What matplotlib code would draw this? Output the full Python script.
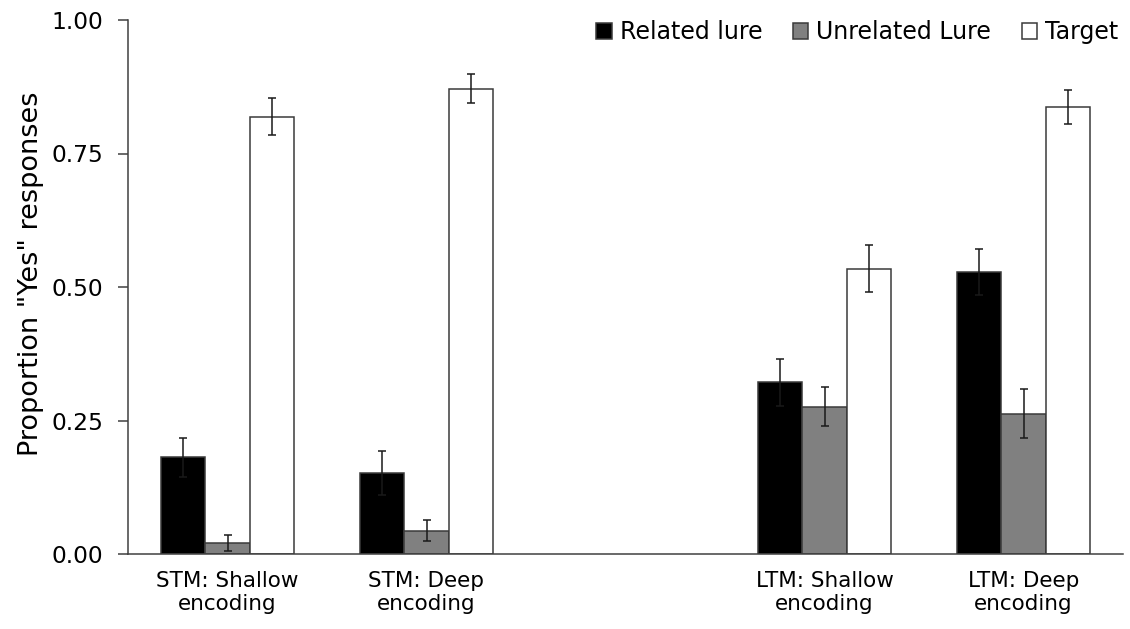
import matplotlib
matplotlib.use("Agg")
import matplotlib.pyplot as plt
import numpy as np

plt.rcParams['font.family'] = ['DejaVu Sans']

categories = ["STM: Shallow\nencoding", "STM: Deep\nencoding", "LTM: Shallow\nencoding", "LTM: Deep\nencoding"]
series_names = ["Related lure", "Unrelated Lure", "Target"]
related = [0.181, 0.152, 0.322, 0.528]
related_err = [0.036, 0.041, 0.044, 0.043]
unrelated = [0.021, 0.044, 0.276, 0.263]
unrelated_err = [0.015, 0.019, 0.036, 0.046]
target = [0.819, 0.871, 0.534, 0.837]
target_err = [0.034, 0.027, 0.044, 0.031]
yticks = [0.0, 0.25, 0.5, 0.75, 1.0]

positions = np.array([0, 1, 3, 4], dtype=float)
width = 0.222

fig = plt.figure(figsize=(11.30, 6.29), dpi=100)
ax = fig.add_axes([128/1130, 75/629, 995/1130, 534/629])

colors = ["#000000", "#808080", "#ffffff"]
data = [related, unrelated, target]
errs = [related_err, unrelated_err, target_err]
for i, (vals, e, c, name) in enumerate(zip(data, errs, colors, series_names)):
    x = positions + (i - 1) * width
    ax.bar(x, vals, width=width, color=c, edgecolor="#3a3a3a", linewidth=1.1, label=name, zorder=2)
    ax.errorbar(x, vals, yerr=e, fmt="none", ecolor="#1a1a1a", elinewidth=1.1, capsize=3.0, capthick=1.1, zorder=3)

ax.set_xlim(-0.5, 4.5)
ax.set_ylim(0, 1.0)
ax.set_yticks(yticks)
ax.set_yticklabels([f"{v:.2f}" for v in yticks], fontsize=16.8)
ax.set_xticks(positions)
ax.set_xticklabels(categories, fontsize=15.5, linespacing=1.2)
ax.tick_params(axis='x', length=0, pad=12)
ax.tick_params(axis='y', length=7, width=1.1, color="#404040", pad=11, direction='out')
for s in ["top", "right"]:
    ax.spines[s].set_visible(False)
for s in ["left", "bottom"]:
    ax.spines[s].set_color("#404040")
    ax.spines[s].set_linewidth(1.1)

ax.set_ylabel('Proportion "Yes" responses', fontsize=19.5)
ax.yaxis.set_label_coords(-(128 - 44) / 995, 0.525)

leg = ax.legend(loc="upper right", bbox_to_anchor=(1.0 - 5/995, 1.0), ncol=3, frameon=False,
                fontsize=17, handlelength=0.64, handleheight=0.64, handletextpad=0.34,
                columnspacing=1.3, borderaxespad=0, borderpad=0)

fig.savefig("out.png", dpi=100)
